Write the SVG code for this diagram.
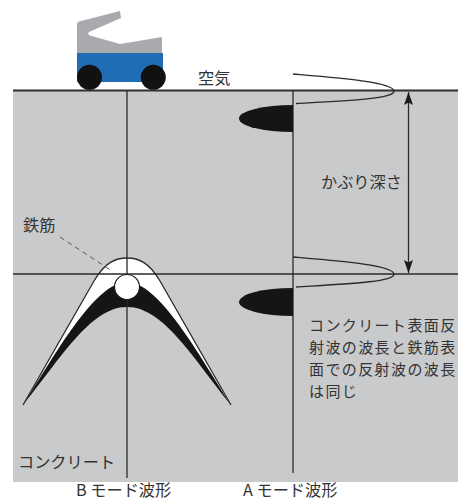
<svg xmlns="http://www.w3.org/2000/svg" width="458" height="504" viewBox="0 0 458 504">
  <style>
    .txt { font-family: "Noto Sans CJK JP", "Noto Sans", sans-serif; font-size: 16.2px; fill: #333; }
    .para { font-size: 15px; letter-spacing: 1.4px; }
    .ln { stroke: #2a2a2a; stroke-width: 1.3; fill: none; }
    .wave { stroke: #2a2a2a; stroke-width: 1.3; fill: none; }
    .lobe { fill: #151515; }
  </style>
  <defs>
    <marker id="head" markerUnits="userSpaceOnUse" markerWidth="16" markerHeight="12" refX="13" refY="5" orient="auto-start-reverse" viewBox="0 0 16 10">
      <path d="M0,0.5 L13,5 L0,9.5 L2.5,5 Z" fill="#1a1a1a"/>
    </marker>
  </defs>

  <!-- concrete body -->
  <g id="concrete">
    <rect x="13" y="90" width="445" height="392" fill="#c9cacc"/>
  </g>

  <!-- B-mode hyperbola from the rebar -->
  <g id="b-mode-hyperbola">
    <path d="M23,405 L94,281 C105,262 116,258 127,258 C138,258 149,262 160,281 L231,405 C194,360 164,307 127,307 C90,307 60,360 23,405 Z" fill="#fff"/>
    <path d="M23,405 C55,355 95,282 127,282 C159,282 199,355 231,405 C194,360 164,307 127,307 C90,307 60,360 23,405 Z" fill="#151515"/>
    <path d="M23,405 L94,281 C105,262 116,258 127,258 C138,258 149,262 160,281 L231,405" class="ln" stroke-width="1.1"/>
  </g>

  <!-- scan lines and reference levels -->
  <g id="connectors">
    <line x1="127" y1="90" x2="127" y2="478" class="ln"/>
    <line x1="293" y1="90" x2="293" y2="473" class="ln"/>
    <line x1="13" y1="274" x2="458" y2="274" class="ln"/>
    <line x1="60" y1="237" x2="112" y2="271" stroke="#555" stroke-width="1" stroke-dasharray="5,4"/>
    <line x1="408.5" y1="92" x2="408.5" y2="273" class="ln" marker-start="url(#head)" marker-end="url(#head)"/>
    <line x1="13" y1="90.5" x2="458" y2="90.5" stroke="#2e2e2e" stroke-width="2"/>
  </g>

  <!-- rebar cross-section -->
  <g id="rebar">
    <circle cx="127" cy="287" r="12.5" fill="#fff" stroke="#1a1a1a" stroke-width="1.2"/>
  </g>

  <!-- A-mode echo at the concrete surface -->
  <g id="a-mode-surface">
    <path d="M293,74 C340,78 393,82 394,91 C395,99 345,101 296,103.5" class="wave"/>
    <path d="M293,105 A54,13.5 0 0 0 293,132 Z" class="lobe"/>
  </g>

  <!-- A-mode echo at the rebar surface -->
  <g id="a-mode-rebar">
    <path d="M293,257 C340,261 393,265 394,274 C395,282 345,284 296,287" class="wave"/>
    <path d="M293,288 A54,14 0 0 0 293,316 Z" class="lobe"/>
  </g>

  <!-- radar cart -->
  <g id="cart">
    <path d="M77,24 Q77,22 79,21.5 L120,11 L121,18 L89,32 Q87,34 90,35.5 L120,44 L162,37 L162,54 L77,54 Z" fill="#a8aaad"/>
    <rect x="77" y="53" width="86" height="29" fill="#1f6db4"/>
    <circle cx="89.5" cy="77.3" r="12.5" fill="#111"/>
    <circle cx="153.3" cy="77.3" r="12.5" fill="#111"/>
  </g>

  <!-- labels -->
  <g id="labels">
    <text class="txt" x="198" y="84" font-size="15">空気</text>
    <text class="txt" x="321" y="188">かぶり深さ</text>
    <text class="txt" x="23" y="231">鉄筋</text>
    <text class="txt para" x="309" y="331">コンクリート表面反</text>
    <text class="txt para" x="309" y="353">射波の波長と鉄筋表</text>
    <text class="txt para" x="309" y="375">面での反射波の波長</text>
    <text class="txt para" x="309" y="397">は同じ</text>
    <text class="txt" x="18" y="468">コンクリート</text>
    <text class="txt" x="76" y="496">B モード波形</text>
    <text class="txt" x="243" y="496">A モード波形</text>
  </g>
</svg>
